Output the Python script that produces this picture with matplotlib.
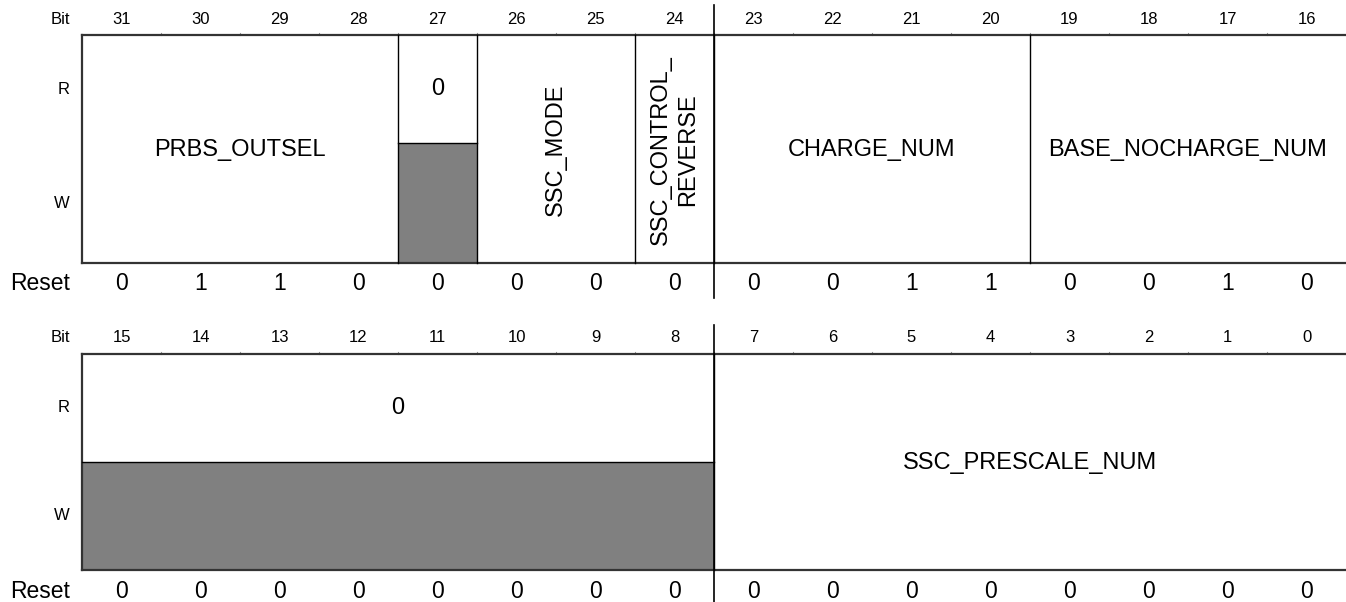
import matplotlib
matplotlib.use('Agg')
import matplotlib.pyplot as plt
from matplotlib.patches import Rectangle

plt.rcParams['font.family'] = ['Liberation Sans', 'DejaVu Sans']

# upper half-word fields (bits 31..16)
hi_names = ['PRBS_OUTSEL', '0', 'SSC_MODE', 'SSC_CONTROL_\nREVERSE', 'CHARGE_NUM', 'BASE_NOCHARGE_NUM']
hi_msb = [31, 27, 26, 24, 23, 19]
hi_lsb = [28, 27, 25, 24, 20, 16]
hi_reserved = [False, True, False, False, False, False]
hi_vertical = [False, False, True, True, False, False]
hi_reset = [0, 1, 1, 0, 0, 0, 0, 0, 0, 0, 1, 1, 0, 0, 1, 0]

# lower half-word fields (bits 15..0)
lo_names = ['0', 'SSC_PRESCALE_NUM']
lo_msb = [15, 7]
lo_lsb = [8, 0]
lo_reserved = [True, False]
lo_vertical = [False, False]
lo_reset = [0, 0, 0, 0, 0, 0, 0, 0, 0, 0, 0, 0, 0, 0, 0, 0]

GREY = '#808080'
EDGE = '#333333'
COLW = 79.0    # px per bit column
LEFT = 82.0    # px of left margin for row labels


def col(bit):
    return 15 - bit % 16


def draw_block(ax, names, msb, lsb, reserved, vertical, reset, first_bit, lay):
    top, split, bottom = lay['top'], lay['split'], lay['bottom']
    lab_x = -12 / COLW

    # row labels
    ax.text(lab_x, lay['bit_y'], 'Bit', ha='right', va='center', fontsize=12)
    ax.text(lab_x, (top + split) / 2, 'R', ha='right', va='center', fontsize=12)
    ax.text(lab_x, (split + bottom) / 2, 'W', ha='right', va='center', fontsize=12)
    ax.text(lab_x, lay['reset_y'], 'Reset', ha='right', va='center', fontsize=16.5)

    # bit numbers and reset values
    for i in range(16):
        b = first_bit - i
        ax.text(col(b) + 0.5, lay['bit_y'], str(b), ha='center', va='center', fontsize=12)
        ax.text(col(b) + 0.5, lay['reset_y'], str(reset[i]), ha='center', va='center', fontsize=16.5)
        if i > 0:
            ax.plot([col(b), col(b)], [top - 2, top], color='#999999', lw=0.8)

    # outline (top / bottom / left)
    ax.plot([0, 16], [top, top], color=EDGE, lw=1.6)
    ax.plot([0, 16], [bottom, bottom], color=EDGE, lw=1.6)
    ax.plot([0, 0], [top, bottom], color=EDGE, lw=1.6)

    for name, m, l, res, vert in zip(names, msb, lsb, reserved, vertical):
        x0 = col(m)
        x1 = col(l) + 1
        if x0 > 0:
            ax.plot([x0, x0], [top, bottom], color='black', lw=1.0)
        if res:
            ax.add_patch(Rectangle((x0, split), x1 - x0, bottom - split,
                                   facecolor=GREY, edgecolor='none'))
            ax.plot([x0, x1], [split, split], color='black', lw=1.0)
            ax.text((x0 + x1) / 2, (top + split) / 2, name, ha='center', va='center', fontsize=17)
        else:
            ax.text((x0 + x1) / 2, (top + bottom) / 2 + 1, name, ha='center', va='center',
                    fontsize=17, rotation=90 if vert else 0,
                    multialignment='center', linespacing=1.3)

    # half-word separator between bit 24/23 and 8/7
    ax.plot([8, 8], [lay['sep_top'], lay['sep_bot']], color='black', lw=1.2)


fig = plt.figure(figsize=(13.46, 6.02), dpi=100)
ax = fig.add_axes([0, 0, 1, 1])
ax.set_xlim(-LEFT / COLW, 16)
ax.set_ylim(602, 0)
ax.axis('off')

hi_layout = dict(bit_y=19, top=35, split=143, bottom=263, reset_y=283, sep_top=5, sep_bot=298)
lo_layout = dict(bit_y=338, top=354, split=462, bottom=570, reset_y=592, sep_top=325, sep_bot=602)

draw_block(ax, hi_names, hi_msb, hi_lsb, hi_reserved, hi_vertical, hi_reset, 31, hi_layout)
draw_block(ax, lo_names, lo_msb, lo_lsb, lo_reserved, lo_vertical, lo_reset, 15, lo_layout)

fig.savefig('out.png', dpi=100)
